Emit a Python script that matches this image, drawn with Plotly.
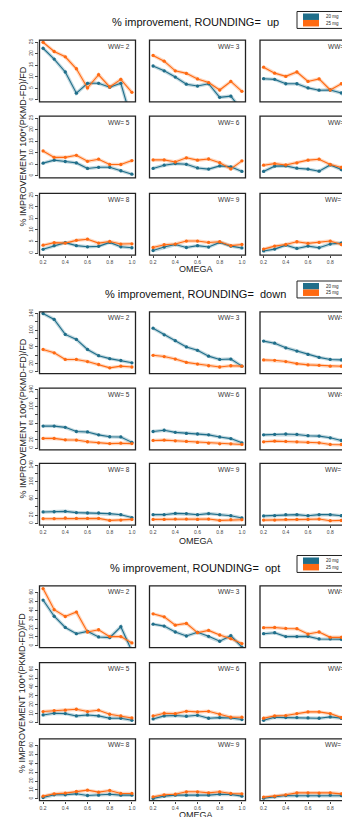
import plotly.graph_objects as go

# ---------------- data ----------------
omega = [0.2, 0.3, 0.4, 0.5, 0.6, 0.7, 0.8, 0.9, 1.0]
ww_values = [2, 3, 4, 5, 6, 7, 8, 9, 10]
rounding_modes = ["up", "down", "opt"]
dose_labels = ["20 mg", "25 mg"]
x_tick_vals = [0.2, 0.4, 0.6, 0.8, 1.0]
x_tick_text = ["0.2", "0.4", "0.6", "0.8", "1.0"]

# ROUNDING = up
up_20mg = [
    [22.4, 17.7, 12.1, 2.9, 7.2, 7.2, 5.5, 7.2, -9.3],
    [14.7, 12.6, 9.9, 6.8, 6.0, 7.0, 1.1, 1.6, -4.6],
    [9.2, 8.9, 7.0, 7.0, 5.2, 4.2, 4.3, 3.0, -1.5],
    [5.5, 6.8, 6.2, 5.6, 3.2, 3.7, 3.7, 2.2, 0.7],
    [3.2, 4.6, 5.3, 5.0, 3.4, 2.9, 4.3, 3.9, 1.9],
    [1.9, 4.2, 4.3, 3.3, 2.9, 2.0, 4.7, 2.7, 1.7],
    [1.6, 3.2, 4.5, 3.2, 2.7, 2.9, 4.6, 2.7, 2.3],
    [1.1, 2.6, 3.7, 2.4, 3.2, 2.6, 4.6, 3.0, 2.2],
    [0.9, 1.7, 3.4, 2.0, 3.0, 2.3, 3.9, 4.3, 2.8],
]
up_25mg = [
    [25.0, 21.0, 18.7, 13.5, 5.2, 10.9, 5.6, 8.9, 3.3],
    [19.3, 16.8, 12.6, 11.5, 9.1, 7.5, 4.3, 8.0, 3.7],
    [14.2, 11.6, 10.2, 12.1, 8.0, 9.1, 4.3, 7.0, 6.5],
    [10.8, 8.0, 8.0, 8.9, 6.3, 7.2, 4.9, 4.9, 6.6],
    [6.9, 6.9, 6.0, 7.8, 6.8, 7.3, 5.7, 3.0, 6.5],
    [4.6, 5.3, 4.7, 5.6, 6.8, 7.2, 4.9, 3.6, 5.5],
    [3.4, 4.5, 4.3, 5.5, 6.0, 4.3, 5.0, 3.9, 4.0],
    [2.4, 3.6, 3.9, 5.2, 5.2, 4.6, 4.9, 3.2, 3.7],
    [1.7, 3.0, 3.7, 4.9, 4.2, 4.6, 5.2, 3.7, 2.9],
]
# ROUNDING = down
down_20mg = [
    [140, 126, 90, 78, 54, 39, 32, 27.5, 22],
    [105, 89, 75, 60, 52, 38, 30, 31, 14],
    [74, 69, 58, 50, 42, 35, 30, 29, 12],
    [53, 53, 50, 40, 39, 32, 27.5, 27, 14],
    [40, 43, 38, 35.5, 34, 32, 27, 23, 13],
    [32, 33, 34, 33, 30, 29, 25, 18.6, 11],
    [27.5, 28, 29, 26, 25, 25, 23.5, 21, 14],
    [21, 21, 24, 23.5, 21, 23.5, 21, 18.6, 13],
    [18, 18.6, 21, 21, 18.6, 21, 21, 18.6, 13],
]
down_25mg = [
    [54, 46, 30, 30, 25, 18, 10, 14, 12],
    [40, 37, 31, 23, 19, 15, 12, 15, 14],
    [29, 28, 25, 20, 17, 16, 14, 14, 13],
    [23.5, 23.5, 20, 19.5, 15.5, 13, 11, 12, 11],
    [18.6, 19.4, 17.8, 16.2, 13.8, 12, 10.5, 10.5, 9],
    [15.4, 17, 16.2, 15.4, 13.8, 13, 9, 9, 8],
    [11.3, 11.3, 13, 12, 12, 12, 7.3, 8, 9.7],
    [9.7, 9.7, 10.5, 10.5, 9.7, 10.5, 7.3, 9, 9],
    [8, 8, 9.7, 9.7, 9.7, 10.5, 6.5, 7.3, 7],
]
# ROUNDING = opt
opt_20mg = [
    [51.5, 33.3, 20.7, 13.7, 16.3, 10.0, 9.3, 21.5, -6.0],
    [24.4, 22.2, 15.6, 11.1, 15.2, 10.7, 5.2, 11.5, -1.5],
    [13.7, 14.8, 10.4, 10.4, 10.7, 7.8, 7.8, 7.4, 1.5],
    [8.6, 10.5, 10.1, 7.5, 8.6, 7.5, 4.9, 4.9, 2.6],
    [4.1, 7.5, 7.9, 7.1, 8.2, 4.9, 5.6, 5.2, 3.4],
    [2.6, 6.0, 5.6, 5.6, 5.2, 4.9, 6.4, 4.9, 3.5],
    [1.5, 4.5, 4.5, 5.6, 3.7, 4.1, 5.2, 4.1, 4.1],
    [0.4, 3.0, 4.1, 4.1, 4.1, 4.1, 5.2, 4.9, 3.0],
    [0.7, 2.2, 3.7, 3.4, 3.4, 3.4, 4.1, 3.7, 3.5],
]
opt_25mg = [
    [64.4, 40.7, 33.0, 38.0, 15.6, 18.1, 10.4, 10.4, 3.3],
    [36.0, 32.6, 23.3, 25.2, 14.8, 17.4, 12.2, 8.1, 2.6],
    [20.4, 20.7, 19.6, 19.3, 13.3, 15.6, 9.6, 9.6, 4.0],
    [12.4, 13.5, 13.9, 15.0, 12.4, 13.9, 9.4, 7.5, 5.2],
    [7.5, 10.5, 10.1, 12.7, 12.0, 12.7, 9.4, 6.0, 6.0],
    [4.9, 7.5, 7.9, 10.1, 12.0, 12.0, 10.1, 5.6, 5.6],
    [3.0, 5.6, 6.4, 8.2, 9.7, 7.5, 9.4, 6.0, 6.0],
    [2.2, 4.5, 5.2, 7.9, 7.9, 6.7, 7.9, 6.0, 5.6],
    [1.9, 3.0, 4.5, 6.7, 6.7, 6.4, 6.7, 5.6, 5.0],
]

up_y_ticks = [0, 5, 10, 15, 20, 25]
up_y_text = ["0", "5", "10", "15", "20", "25"]
down_y_ticks = [0, 20, 40, 60, 80, 100, 120, 140]
down_y_text = ["0", "20", "", "60", "", "100", "", "140"]
opt_y_ticks = [0, 10, 20, 30, 40, 50, 60]
opt_y_text = ["0", "10", "20", "30", "40", "50", "60"]

series_by_mode = {
    "up": (up_20mg, up_25mg),
    "down": (down_20mg, down_25mg),
    "opt": (opt_20mg, opt_25mg),
}
ticks_by_mode = {
    "up": (up_y_ticks, up_y_text),
    "down": (down_y_ticks, down_y_text),
    "opt": (opt_y_ticks, opt_y_text),
}

# ---------------- styling / layout geometry ----------------
W, H = 350, 817
OFF = 8.0  # page body margin: positions below are in window pixels
FONT = "Liberation Sans, Arial, Helvetica, sans-serif"
TEAL = "#1f6e8a"
ORANGE = "#ff6a12"
TEAL_HALO = "rgba(31,110,138,0.28)"
ORANGE_HALO = "rgba(255,106,18,0.28)"
colors = [TEAL, ORANGE]
halos = [TEAL_HALO, ORANGE_HALO]

col_px = [(39.5, 135.5), (149.5, 245.5), (260.0, 356.0)]
x_full = [0.168, 1.032]
row_tops = [[37.3, 113.5, 191.0], [310.0, 386.5, 462.0], [585.0, 662.0, 738.5]]
row_h = 62.0
y_ranges = {"up": [-0.9, 25.9], "down": [-4.0, 144.0], "opt": [-2.0, 67.4]}
title_y = [19.3, 291.7, 567.3]
omega_y = [267.3, 540.0, 815.0]
legend_box = [(8.5, 25.5), (279.0, 296.0), (554.5, 571.5)]
axis_line_x = 37.7


def px_x(v):
    return (v - OFF) / W


def px_y(v):
    return 1 - (v - OFF) / H


fig = go.Figure()
layout = {}
shapes = []
annotations = []

k = 0
for p, mode in enumerate(rounding_modes):
    s20, s25 = series_by_mode[mode]
    yt, ytt = ticks_by_mode[mode]
    for r in range(3):
        for c in range(3):
            k += 1
            idx = r * 3 + c
            ww = ww_values[idx]
            xn = "x" if k == 1 else f"x{k}"
            yn = "y" if k == 1 else f"y{k}"
            xa = "xaxis" if k == 1 else f"xaxis{k}"
            ya = "yaxis" if k == 1 else f"yaxis{k}"

            left, right = col_px[c]
            top = row_tops[p][r]
            bot = top + row_h
            bottom_row = r == 2

            layout[xa] = dict(
                domain=[px_x(left), px_x(right)], range=x_full, anchor=yn,
                showgrid=False, zeroline=False, showline=False,
                ticks="outside" if bottom_row else "", ticklen=2, tickwidth=0.7, tickcolor="#444",
                tickvals=x_tick_vals, ticktext=x_tick_text,
                showticklabels=bottom_row, tickfont=dict(size=5, color="#444", family=FONT),
            )
            yax = dict(
                domain=[px_y(bot), px_y(top)], range=y_ranges[mode],
                showgrid=False, zeroline=False, showline=False,
                tickvals=yt, ticktext=ytt,
            )
            if c == 0:
                yax.update(anchor="free", position=px_x(axis_line_x), ticks="outside",
                           ticklen=2.5, tickwidth=0.7, tickcolor="#444", tickangle=-90,
                           showticklabels=True, tickfont=dict(size=5, color="#444", family=FONT))
                shapes.append(dict(type="line", xref="paper", yref=yn,
                                   x0=px_x(axis_line_x), x1=px_x(axis_line_x), y0=yt[0], y1=yt[-1],
                                   line=dict(color="#444", width=0.7)))
            else:
                yax.update(anchor=xn, ticks="", showticklabels=False)
            layout[ya] = yax

            for si, vals in enumerate([s20[idx], s25[idx]]):
                fig.add_trace(go.Scatter(
                    x=omega, y=vals, xaxis=xn, yaxis=yn, mode="lines",
                    line=dict(color=halos[si], width=3.5), hoverinfo="skip", showlegend=False))
            for si, vals in enumerate([s20[idx], s25[idx]]):
                fig.add_trace(go.Scatter(
                    x=omega, y=vals, xaxis=xn, yaxis=yn, mode="lines+markers",
                    name=dose_labels[si],
                    line=dict(color=colors[si], width=1.1),
                    marker=dict(color=colors[si], size=3.3, symbol="circle"),
                    showlegend=False))

            shapes.append(dict(type="rect", xref=xn + " domain", yref=yn + " domain",
                               x0=0, x1=1, y0=0, y1=1,
                               line=dict(color="#222", width=1.3), layer="above"))
            annotations.append(dict(
                text=f"WW= {ww}", xref="paper", yref="paper",
                x=px_x(right - 4), y=px_y(top + 6), xanchor="right", yanchor="middle",
                showarrow=False, font=dict(size=6.5, color="#333", family=FONT)))

    annotations.append(dict(
        text=f"% improvement, ROUNDING=  {mode}", xref="paper", yref="paper",
        x=px_x(195), y=px_y(title_y[p]), xanchor="center", yanchor="middle",
        showarrow=False, font=dict(size=11, color="#111", family=FONT)))
    annotations.append(dict(
        text="OMEGA", xref="paper", yref="paper",
        x=px_x(196), y=px_y(omega_y[p]), xanchor="center", yanchor="middle",
        showarrow=False, font=dict(size=9, color="#222", family=FONT)))
    mid = row_tops[p][1] + row_h / 2
    annotations.append(dict(
        text="% IMPROVEMENT 100*(PKMD-FD)/FD", xref="paper", yref="paper",
        x=px_x(22.5), y=px_y(mid), xanchor="center", yanchor="middle", textangle=-90,
        showarrow=False, font=dict(size=9, color="#222", family=FONT)))
    bt, bb = legend_box[p]
    shapes.append(dict(type="rect", xref="paper", yref="paper",
                       x0=px_x(297), x1=px_x(349), y0=px_y(bb), y1=px_y(bt),
                       line=dict(color="#222", width=1), fillcolor="white"))
    midb = (bt + bb) / 2
    for si in range(2):
        s_top = bt + 2 if si == 0 else midb
        s_bot = midb if si == 0 else bb - 2
        shapes.append(dict(type="rect", xref="paper", yref="paper",
                           x0=px_x(303), x1=px_x(319), y0=px_y(s_bot), y1=px_y(s_top),
                           line=dict(width=0), fillcolor=colors[si]))
        annotations.append(dict(
            text=dose_labels[si], xref="paper", yref="paper",
            x=px_x(324), y=px_y((s_top + s_bot) / 2), xanchor="left", yanchor="middle",
            showarrow=False, font=dict(size=4.5, color="#222", family=FONT)))

fig.update_layout(
    width=W, height=H, margin=dict(l=0, r=0, t=0, b=0),
    paper_bgcolor="white", plot_bgcolor="white",
    showlegend=False, shapes=shapes, annotations=annotations,
    font=dict(family=FONT),
    **layout,
)

fig.write_html("out.html")
